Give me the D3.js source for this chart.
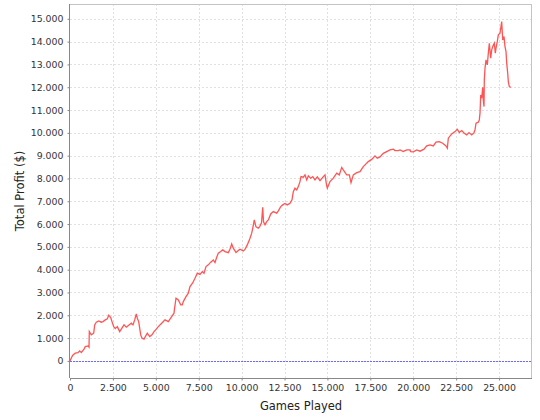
<!DOCTYPE html>
<html>
<head>
<meta charset="utf-8">
<script src="https://cdn.jsdelivr.net/npm/d3@7"></script>
<style>
  html, body { margin: 0; padding: 0; background: #ffffff; }
  svg { display: block; font-family: "DejaVu Sans", sans-serif; }
</style>
</head>
<body>
<svg id="chart" width="540" height="420"></svg>
<script>
// ---- data ----
const games = [0,117,175,309,466,565,658,816,892,1049,1107,1125,1241,1381,1439,1533,1672,1824,1923,2057,2173,2255,2372,2447,2546,2640,2756,2896,2989,3147,3281,3438,3572,3671,3770,3863,3922,4003,4120,4195,4312,4388,4504,4644,4778,4895,5029,5145,5343,5536,5728,5926,6060,6089,6177,6311,6451,6544,6602,6759,6893,6992,7138,7284,7418,7575,7709,7808,7925,8059,8187,8350,8449,8548,8641,8781,8898,9032,9224,9323,9422,9516,9673,9807,9906,10098,10197,10331,10489,10588,10664,10739,10838,10972,11054,11159,11229,11276,11363,11462,11556,11696,11847,12045,12138,12278,12394,12528,12662,12819,12936,13012,13110,13210,13303,13402,13460,13594,13693,13792,13886,14026,14142,14276,14410,14568,14760,14859,14946,14993,15150,15343,15541,15692,15832,15925,16123,16275,16374,16508,16706,16898,17091,17190,17382,17580,17772,17906,18064,18256,18454,18646,18839,18937,19130,19229,19421,19520,19637,19812,19853,20004,20203,20395,20628,20785,20977,21170,21327,21519,21717,21910,21986,22044,22242,22434,22568,22685,22825,22976,23116,23250,23407,23541,23599,23658,23792,23850,23891,23932,23990,24048,24083,24124,24141,24182,24240,24316,24374,24433,24514,24572,24631,24724,24782,24823,24899,24957,25056,25155,25213,25289,25347,25406,25447,25505,25540,25598,25680];
const profit = [0,189,263,338,364,438,364,513,627,658,601,1285,1140,1215,1579,1697,1754,1697,1723,1798,1842,2004,1899,1723,1504,1416,1504,1285,1390,1579,1478,1579,1653,1579,1798,2061,1872,1723,1140,995,952,1066,1215,1066,1140,1285,1390,1504,1653,1798,1723,1943,2092,2280,2749,2675,2456,2456,2600,2820,2969,3258,3407,3626,3846,3793,3916,3846,4135,4210,4319,4429,4311,4547,4723,4793,4867,4793,4749,4898,5130,4942,4749,4837,4898,4824,4889,5087,5380,5600,5876,6183,5876,5819,5889,6051,6731,6095,5964,6108,6183,6446,6547,6477,6577,6766,6841,6906,6841,6915,7060,7424,7573,7498,7643,7862,8082,8055,8156,7937,8112,8011,8082,7937,8068,7906,8082,8156,7718,7573,7862,8011,8231,8156,8485,8375,8156,8156,7819,8156,8257,8301,8520,8594,8739,8836,8989,8888,8946,9099,9178,9252,9283,9222,9222,9252,9178,9222,9252,9252,9178,9165,9252,9195,9283,9428,9472,9428,9590,9616,9546,9428,9327,9766,9954,10055,10160,10011,10099,9985,9910,10011,9910,10011,10129,10423,10467,10568,10862,11664,11519,12002,11445,11151,12322,12835,13199,12980,13493,13931,13273,13637,13782,13931,13493,13713,14007,14295,14370,14878,14076,14221,13782,13563,13054,12616,12248,12028,11993];
const xTicks = [0,2500,5000,7500,10000,12500,15000,17500,20000,22500,25000];
const yTicks = [0,1000,2000,3000,4000,5000,6000,7000,8000,9000,10000,11000,12000,13000,14000,15000];
const xTitle = "Games Played";
const yTitle = "Total Profit ($)";

// ---- layout ----
const plot = { left: 70, right: 532, top: 4, bottom: 378 };
const svg = d3.select("#chart");
const x = d3.scaleLinear().domain([0, 26920]).range([plot.left, plot.right]);
const y = d3.scaleLinear().domain([-750, 15650]).range([plot.bottom, plot.top]);

const loc = d3.formatLocale({ decimal: ",", thousands: ".", grouping: [3], currency: ["$", ""] });
const fmt = loc.format(",d");

svg.append("rect").attr("x", 0).attr("y", 0).attr("width", 540).attr("height", 420).attr("fill", "#ffffff");

// gridlines
const grid = svg.append("g").attr("shape-rendering", "crispEdges");
grid.selectAll("line.gx").data(xTicks.filter(d => d > 0)).join("line")
  .attr("x1", d => Math.round(x(d)) + 0.5).attr("x2", d => Math.round(x(d)) + 0.5)
  .attr("y1", plot.top).attr("y2", plot.bottom)
  .attr("stroke", "#e0e0e0").attr("stroke-width", 1).attr("stroke-dasharray", "2,2");
grid.selectAll("line.gy").data(yTicks).join("line")
  .attr("y1", d => Math.round(y(d)) + 0.5).attr("y2", d => Math.round(y(d)) + 0.5)
  .attr("x1", plot.left).attr("x2", plot.right)
  .attr("stroke", "#e0e0e0").attr("stroke-width", 1).attr("stroke-dasharray", "2,2");

// zero baseline
svg.append("line").attr("shape-rendering", "crispEdges")
  .attr("x1", plot.left).attr("x2", plot.right)
  .attr("y1", Math.round(y(0)) + 0.5).attr("y2", Math.round(y(0)) + 0.5)
  .attr("stroke", "#6a6aff").attr("stroke-width", 1).attr("stroke-dasharray", "2,1");

// plot outline (top/right)
svg.append("path").attr("shape-rendering", "crispEdges")
  .attr("d", `M${plot.left},${plot.top + 0.5}H${plot.right - 0.5}V${plot.bottom}`)
  .attr("fill", "none").attr("stroke", "#c4c4c4").attr("stroke-width", 1);

// line
const pts = games.map((g, i) => [g, profit[i]]);
svg.append("path")
  .datum(pts)
  .attr("d", d3.line().x(d => x(d[0])).y(d => y(d[1])))
  .attr("fill", "none").attr("stroke", "#ff5555").attr("stroke-width", 1.3)
  .attr("stroke-linejoin", "miter");

// axes
const xAxis = svg.append("g").attr("transform", `translate(0,${plot.bottom + 0.5})`)
  .call(d3.axisBottom(x).tickValues(xTicks).tickFormat(fmt).tickSize(2).tickPadding(4));
const yAxis = svg.append("g").attr("transform", `translate(${plot.left - 0.5},0)`)
  .call(d3.axisLeft(y).tickValues(yTicks).tickFormat(fmt).tickSize(2).tickPadding(4));

[xAxis, yAxis].forEach(a => {
  a.select(".domain").attr("stroke", "#888888").attr("stroke-width", 1);
  a.selectAll(".tick line").attr("stroke", "#888888");
  a.selectAll(".tick text").attr("fill", "#333333").attr("font-size", "9.4px")
    .attr("font-family", "DejaVu Sans, sans-serif");
});
xAxis.select(".domain").attr("d", `M${plot.left},0H${plot.right}`);
yAxis.select(".domain").attr("d", `M0,${plot.top}V${plot.bottom}`);

// titles
svg.append("text").attr("x", (plot.left + plot.right) / 2).attr("y", 410)
  .attr("text-anchor", "middle").attr("font-size", "11.5px").attr("fill", "#222")
  .text(xTitle);
svg.append("text")
  .attr("transform", `translate(24,${(plot.top + plot.bottom) / 2}) rotate(-90)`)
  .attr("text-anchor", "middle").attr("font-size", "11.5px").attr("fill", "#222")
  .text(yTitle);
</script>
</body>
</html>
